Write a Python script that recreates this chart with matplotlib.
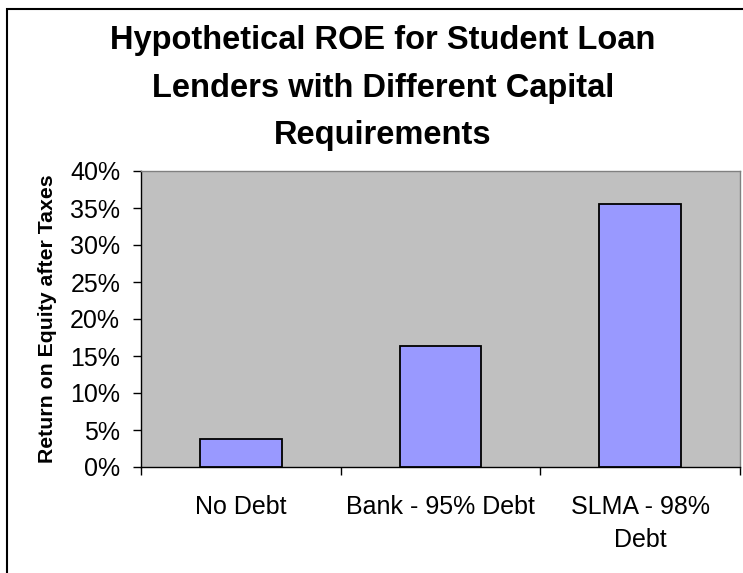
import matplotlib
matplotlib.use("Agg")
import matplotlib.pyplot as plt
from matplotlib.patches import Rectangle
from matplotlib.ticker import FixedLocator, FuncFormatter

# Data
categories = ["No Debt", "Bank - 95% Debt", "SLMA - 98%\nDebt"]
roe_values = [0.038, 0.163, 0.356]
y_ticks = [0.0, 0.05, 0.10, 0.15, 0.20, 0.25, 0.30, 0.35, 0.40]

plt.rcParams["font.family"] = ["Liberation Sans", "DejaVu Sans"]

W, H = 743, 573
fig = plt.figure(figsize=(W / 100, H / 100), dpi=100)
fig.patch.set_facecolor("white")

# chart-area frame (left and top edges visible)
frame = Rectangle((7 / W, -0.1), 1.2, 1 - 9 / H + 0.1, transform=fig.transFigure,
                  fill=False, edgecolor="black", linewidth=1.5, zorder=0)
fig.patches.append(frame)

ax = fig.add_axes([141 / W, (H - 467) / H, (740 - 141) / W, (467 - 171) / H])
ax.set_facecolor("#C0C0C0")

x = list(range(len(categories)))
ax.bar(x, roe_values, width=0.41, color="#9999FF", edgecolor="black",
       linewidth=1.3, zorder=3)

ax.set_xlim(-0.5, len(categories) - 0.5)
ax.set_ylim(0, 0.40)

ax.set_yticks(y_ticks)
ax.yaxis.set_major_formatter(FuncFormatter(lambda v, p: f"{v * 100:.0f}%"))
ax.tick_params(axis="y", direction="out", length=6, width=1, labelsize=18,
               pad=9, colors="black")

# category boundaries as major ticks, labels centred via minor ticks
ax.xaxis.set_major_locator(FixedLocator([i - 0.5 for i in range(len(categories) + 1)]))
ax.xaxis.set_major_formatter(FuncFormatter(lambda v, p: ""))
ax.xaxis.set_minor_locator(FixedLocator(x))
ax.set_xticklabels(categories, minor=True)
ax.tick_params(axis="x", which="major", direction="out", length=6, width=1)
ax.tick_params(axis="x", which="minor", length=0, labelsize=18, pad=20)
for lbl in ax.get_xticklabels(minor=True):
    lbl.set_multialignment("center")
    lbl.set_linespacing(1.5)

for side in ("left", "bottom"):
    ax.spines[side].set_color("black")
    ax.spines[side].set_linewidth(1.0)
for side in ("top", "right"):
    ax.spines[side].set_color("#808080")
    ax.spines[side].set_linewidth(1.0)

ax.set_ylabel("Return on Equity after Taxes", fontsize=15.3, fontweight="bold")
ax.yaxis.set_label_coords(-(141 - 57) / (740 - 141), 0.5)

fig.text(383 / W, 1 - 88 / H,
         "Hypothetical ROE for Student Loan\nLenders with Different Capital\nRequirements",
         ha="center", va="center", fontsize=23.5, fontweight="bold", linespacing=1.7)

fig.savefig("out.png", dpi=100)
